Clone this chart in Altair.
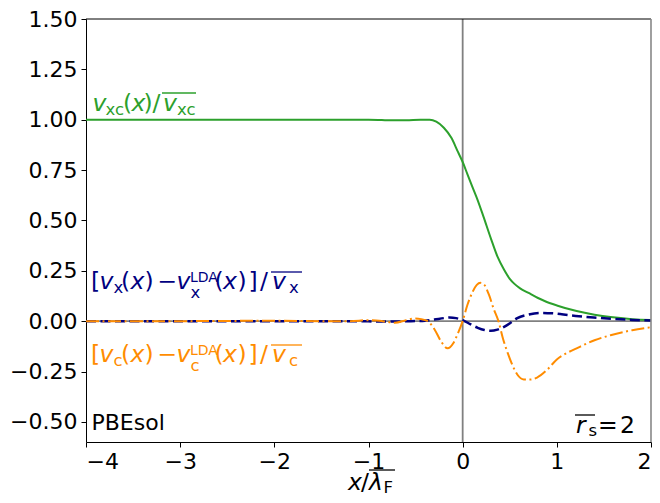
import altair as alt
import pandas as pd

# ---------------- data ----------------
vxc_x = [-4.0, -3.0, -2.0, -1.5, -1.2, -1.0, -0.9, -0.8, -0.6, -0.45, -0.35, -0.28, -0.2, -0.12,
         -0.05, 0.0, 0.05, 0.1, 0.16, 0.22, 0.3, 0.37, 0.44, 0.5, 0.55, 0.61, 0.7, 0.8, 0.87,
         1.0, 1.21, 1.4, 1.57, 1.8, 2.0]
vxc_y = [1.0, 1.0, 1.0, 1.0, 1.0, 1.0, 0.999, 0.997, 0.997, 1.0, 1.0, 0.99, 0.96, 0.91,
         0.84, 0.79, 0.73, 0.67, 0.60, 0.52, 0.41, 0.32, 0.255, 0.21, 0.185, 0.163, 0.14, 0.115,
         0.10, 0.078, 0.05, 0.032, 0.02, 0.01, 0.006]

vx_x = [-4.0, -2.0, -1.2, -0.8, -0.55, -0.4, -0.3, -0.2, -0.14, -0.07, 0.0, 0.08, 0.16, 0.23,
        0.3, 0.37, 0.44, 0.51, 0.58, 0.7, 0.82, 0.95, 1.07, 1.2, 1.39, 1.6, 1.8, 2.0]
vx_y = [0.0, 0.0, 0.0, -0.002, 0.0, 0.002, 0.008, 0.015, 0.018, 0.015, 0.005, -0.015, -0.033,
        -0.044, -0.048, -0.042, -0.028, -0.008, 0.015, 0.033, 0.041, 0.039, 0.033, 0.026, 0.018,
        0.011, 0.006, 0.003]

vc_x = [-4.0, -3.0, -2.0, -1.5, -1.2, -1.0, -0.85, -0.72, -0.6, -0.52, -0.44, -0.37, -0.3,
        -0.23, -0.16, -0.1, -0.05, 0.0, 0.05, 0.1, 0.15, 0.19, 0.23, 0.28, 0.33, 0.38, 0.43,
        0.48, 0.53, 0.58, 0.65, 0.72, 0.79, 0.9, 1.0, 1.1, 1.21, 1.4, 1.57, 1.8, 2.0]
vc_y = [0.0, 0.0, 0.002, 0.0, 0.0, 0.005, 0.0, -0.008, 0.005, 0.013, 0.01, 0.0, -0.04, -0.1,
        -0.135, -0.11, -0.06, 0.0, 0.08, 0.14, 0.18, 0.19, 0.18, 0.13, 0.06, 0.0, -0.09, -0.16,
        -0.22, -0.265, -0.29, -0.29, -0.28, -0.24, -0.19, -0.16, -0.135, -0.095, -0.07, -0.045,
        -0.03]

x_ticks = [-4, -3, -2, -1, 0, 1, 2]
y_ticks = [-0.5, -0.25, 0.0, 0.25, 0.5, 0.75, 1.0, 1.25, 1.5]

# ---------------- layout ----------------
XMIN, XMAX, YMIN, YMAX = -4.0, 2.0, -0.6, 1.5
W, H = 565, 423
LEFT_PX, BOTTOM_PX = 86, 442
FONT = "DejaVu Sans"
GREEN, NAVY, ORANGE = "#2ca02c", "#000080", "#ff8c00"
MAIN, SUB, SUP, PLAIN = 23.5, 16.5, 14, 22


def px2x(px):
    return XMIN + (px - LEFT_PX) * (XMAX - XMIN) / W


def px2y(py):
    return YMIN + (BOTTOM_PX - py) * (YMAX - YMIN) / H


xs = alt.Scale(domain=[XMIN, XMAX], nice=False, zero=False)
ys = alt.Scale(domain=[YMIN, YMAX], nice=False, zero=False)
AX = alt.Axis(values=x_ticks, format="d", title=None, grid=False)
AY = alt.Axis(values=y_ticks, format=".2f", title=None, grid=False)

# text segments: (text, left px, baseline px, size, italic, color)
segs = []
overlines = []


def label_v(color, sub, base):
    off = base - 288.7
    s = [("[", 91, 288.7, MAIN, False), ("v", 99.5, 288.7, MAIN, True),
         (sub, 113.5, 292.7, SUB, False), ("(", 121, 288.7, MAIN, False),
         ("x", 130.5, 288.7, MAIN, True), (")", 144.5, 288.7, MAIN, False),
         ("\u2212", 157.5, 288.7, MAIN, False), ("v", 176.5, 288.7, MAIN, True),
         ("LDA", 190, 282, SUP, False), (sub, 190.5, 297.5, SUB, False),
         ("(", 214.5, 288.7, MAIN, False), ("x", 223, 288.7, MAIN, True),
         (")", 237.5, 288.7, MAIN, False), ("]", 248.5, 288.7, MAIN, False),
         ("/", 260, 288.7, MAIN, False), ("v", 272, 288.7, MAIN, True),
         (sub, 289, 292.7, SUB, False)]
    for t, x, y, sz, it in s:
        segs.append((t, x, y + off, sz, it, color))
    overlines.append((271, 302, 272 + off, color))


# v_xc(x) / overline(v_xc)
for t, x, y, sz, it in [("v", 92.5, 111, MAIN, True), ("xc", 105.5, 114.5, SUB, False),
                        ("(", 123, 111, MAIN, False), ("x", 131.5, 111, MAIN, True),
                        (")", 143.5, 111, MAIN, False), ("/", 152.5, 111, MAIN, False),
                        ("v", 163, 111, MAIN, True), ("xc", 177, 114.5, SUB, False)]:
    segs.append((t, x, y, sz, it, GREEN))
overlines.append((162, 196, 93, GREEN))
label_v(NAVY, "x", 288.7)
label_v(ORANGE, "c", 361.7)
# PBEsol
segs.append(("PBEsol", 91.5, 430, PLAIN, False, "black"))
# overline(r)_s = 2
segs.append(("r", 576, 432.5, MAIN, True, "black"))
segs.append(("s", 588.5, 436, SUB, False, "black"))
segs.append(("=", 598, 432.5, MAIN, False, "black"))
segs.append(("2", 620, 432.5, MAIN, False, "black"))
overlines.append((575, 595, 415, "black"))
# x / overline(lambda_F)
segs.append(("x", 348, 490, MAIN, True, "black"))
segs.append(("/", 361, 490, MAIN, False, "black"))
segs.append(("\u03bb", 369, 490, MAIN, True, "black"))
segs.append(("F", 383.5, 492.5, SUB, False, "black"))
overlines.append((369, 395, 470, "black"))

tdf = pd.DataFrame({
    "x": [px2x(s[1]) for s in segs],
    "y": [px2y(s[2]) for s in segs],
    "text": [s[0] for s in segs],
    "size": [s[3] for s in segs],
    "italic": [s[4] for s in segs],
    "color": [s[5] for s in segs],
})
odf = pd.DataFrame({
    "x": [px2x(o[0]) for o in overlines],
    "x2": [px2x(o[1]) for o in overlines],
    "y": [px2y(o[2]) for o in overlines],
    "color": [o[3] for o in overlines],
})


def line(xv, yv, color, width, dash=None):
    df = pd.DataFrame({"x": xv, "y": yv})
    kw = dict(color=color, strokeWidth=width, interpolate="monotone")
    if dash:
        kw["strokeDash"] = dash
    return alt.Chart(df).mark_line(**kw).encode(
        x=alt.X("x:Q", scale=xs, axis=AX), y=alt.Y("y:Q", scale=ys, axis=AY))


hline = alt.Chart(pd.DataFrame({"y": [0.0]})).mark_rule(color="#808080", strokeWidth=1.8).encode(
    y=alt.Y("y:Q", scale=ys, axis=AY))
vline = alt.Chart(pd.DataFrame({"x": [0.0]})).mark_rule(color="#808080", strokeWidth=1.8).encode(
    x=alt.X("x:Q", scale=xs, axis=AX))
top_spine = alt.Chart(pd.DataFrame({"y": [YMAX]})).mark_rule(color="black", strokeWidth=1).encode(
    y=alt.Y("y:Q", scale=ys, axis=AY))
right_spine = alt.Chart(pd.DataFrame({"x": [XMAX]})).mark_rule(color="#888888", strokeWidth=1.6).encode(
    x=alt.X("x:Q", scale=xs, axis=AX))


def text_layer(italic):
    return alt.Chart(tdf).transform_filter(
        alt.datum.italic == italic
    ).mark_text(align="left", baseline="alphabetic", font=FONT,
                fontStyle="italic" if italic else "normal").encode(
        x=alt.X("x:Q", scale=xs, axis=AX), y=alt.Y("y:Q", scale=ys, axis=AY),
        text="text:N", size=alt.Size("size:Q", scale=None),
        color=alt.Color("color:N", scale=None))


over = alt.Chart(odf).mark_rule(strokeWidth=1.3).encode(
    x=alt.X("x:Q", scale=xs, axis=AX), x2="x2:Q", y=alt.Y("y:Q", scale=ys, axis=AY),
    color=alt.Color("color:N", scale=None))

chart = alt.layer(
    hline, vline,
    line(vxc_x, vxc_y, GREEN, 2),
    line(vx_x, vx_y, NAVY, 2.5, [10, 4.5]),
    line(vc_x, vc_y, ORANGE, 2, [13, 3.5, 2, 3.5]),
    top_spine, right_spine,
    text_layer(True), text_layer(False), over,
).properties(
    width=W, height=H,
    padding={"left": 78, "top": 11, "right": 1, "bottom": 51},
    autosize=alt.AutoSizeParams(type="none"),
).configure_view(stroke=None).configure_axis(
    labelFont=FONT, labelFontSize=22, labelColor="black",
    domainColor="black", domainWidth=1, tickColor="black", tickWidth=1,
    tickSize=5, labelPadding=4,
)

chart.save("out.html", embed_options={"renderer": "svg", "actions": False})
